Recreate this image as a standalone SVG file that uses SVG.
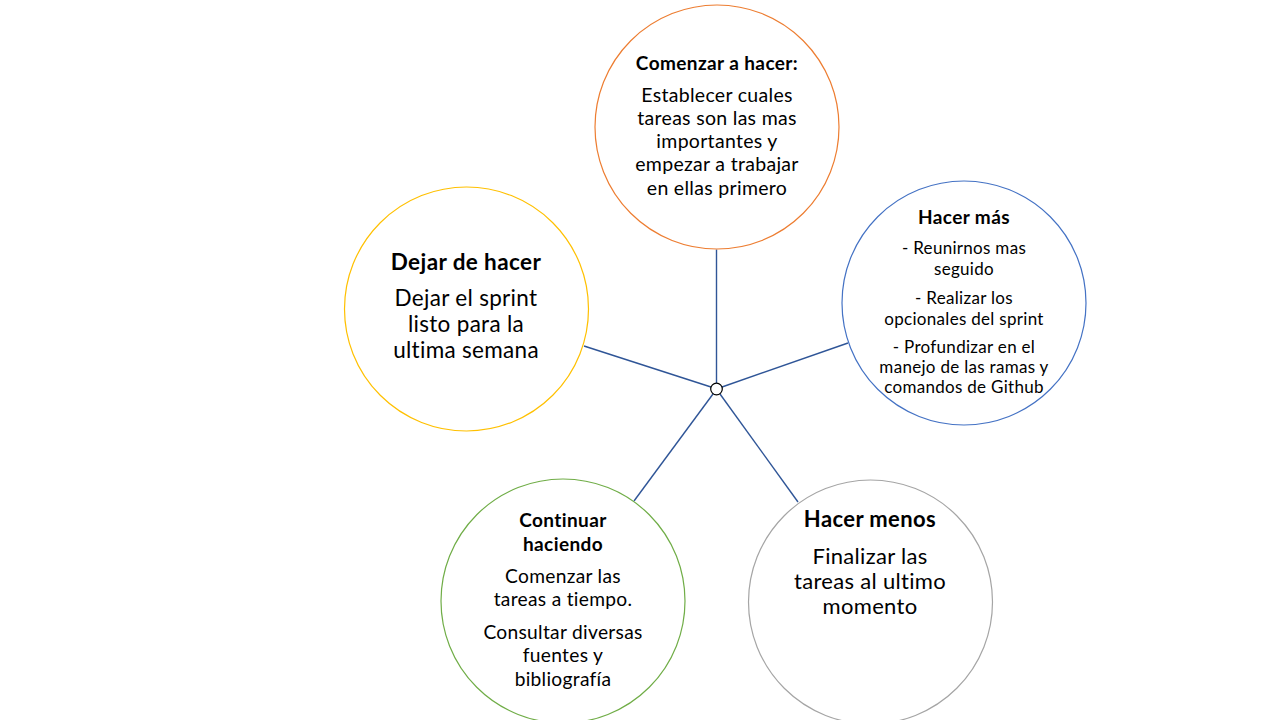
<svg xmlns="http://www.w3.org/2000/svg" width="1280" height="720" viewBox="0 0 1280 720">
<style>
  text { font-family: Lato, "Noto Sans", "Liberation Sans", sans-serif; fill: #000; text-anchor: middle; }
  .b { font-weight: bold; letter-spacing: 0.4px; }
  .t { letter-spacing: 0.3px; }
  .node { fill: #fff; stroke-width: 1.2; }
  .conn line { stroke: #2F5597; stroke-width: 1.4; }
</style>
<rect width="1280" height="720" fill="#fff"/>
<g id="connectors" class="conn">
  <line x1="716.5" y1="249.5" x2="716.5" y2="383"/>
  <line x1="584" y1="346" x2="711" y2="387"/>
  <line x1="848" y1="343" x2="722" y2="387"/>
  <line x1="634" y1="501" x2="713" y2="394"/>
  <line x1="798" y1="502" x2="720" y2="394"/>
</g>
<g id="hub">
  <circle cx="716.5" cy="389" r="5.8" fill="#fff" stroke="#000" stroke-width="1.2"/>
</g>
<g id="node-comenzar">
  <circle class="node" cx="717" cy="127" r="122" stroke="#ED7D31"/>
  <text class="b" x="717" y="70" font-size="19">Comenzar a hacer:</text>
  <text class="t" x="717" font-size="19.5"><tspan x="717" y="102">Establecer cuales</tspan><tspan x="717" y="125">tareas son las mas</tspan><tspan x="717" y="148">importantes y</tspan><tspan x="717" y="171">empezar a trabajar</tspan><tspan x="717" y="195">en ellas primero</tspan></text>
</g>
<g id="node-hacer-mas">
  <circle class="node" cx="964" cy="303" r="122" stroke="#4472C4"/>
  <text class="b" x="964" y="224" font-size="19">Hacer más</text>
  <text class="t" x="964" font-size="17"><tspan x="964" y="254">- Reunirnos mas</tspan><tspan x="964" y="275">seguido</tspan><tspan x="964" y="304">- Realizar los</tspan><tspan x="964" y="325">opcionales del sprint</tspan><tspan x="964" y="353">- Profundizar en el</tspan><tspan x="964" y="373">manejo de las ramas y</tspan><tspan x="964" y="393">comandos de Github</tspan></text>
</g>
<g id="node-dejar">
  <circle class="node" cx="466.5" cy="309" r="122" stroke="#FFC000"/>
  <text class="b" x="466" y="270" font-size="22.5">Dejar de hacer</text>
  <text class="t" x="466" font-size="22.5"><tspan x="466" y="306">Dejar el sprint</tspan><tspan x="466" y="332">listo para la</tspan><tspan x="466" y="358">ultima semana</tspan></text>
</g>
<g id="node-continuar">
  <circle class="node" cx="563" cy="601" r="122" stroke="#70AD47"/>
  <text class="b" x="563" font-size="19"><tspan x="563" y="527">Continuar</tspan><tspan x="563" y="551">haciendo</tspan></text>
  <text class="t" x="563" font-size="19.2"><tspan x="563" y="583">Comenzar las</tspan><tspan x="563" y="606">tareas a tiempo.</tspan><tspan x="563" y="639">Consultar diversas</tspan><tspan x="563" y="662">fuentes y</tspan><tspan x="563" y="686">bibliografía</tspan></text>
</g>
<g id="node-menos">
  <circle class="node" cx="870.5" cy="602" r="122" stroke="#A5A5A5"/>
  <text class="b" x="870" y="527" font-size="22">Hacer menos</text>
  <text class="t" x="870" font-size="22"><tspan x="870" y="564">Finalizar las</tspan><tspan x="870" y="589">tareas al ultimo</tspan><tspan x="870" y="614">momento</tspan></text>
</g>
</svg>
